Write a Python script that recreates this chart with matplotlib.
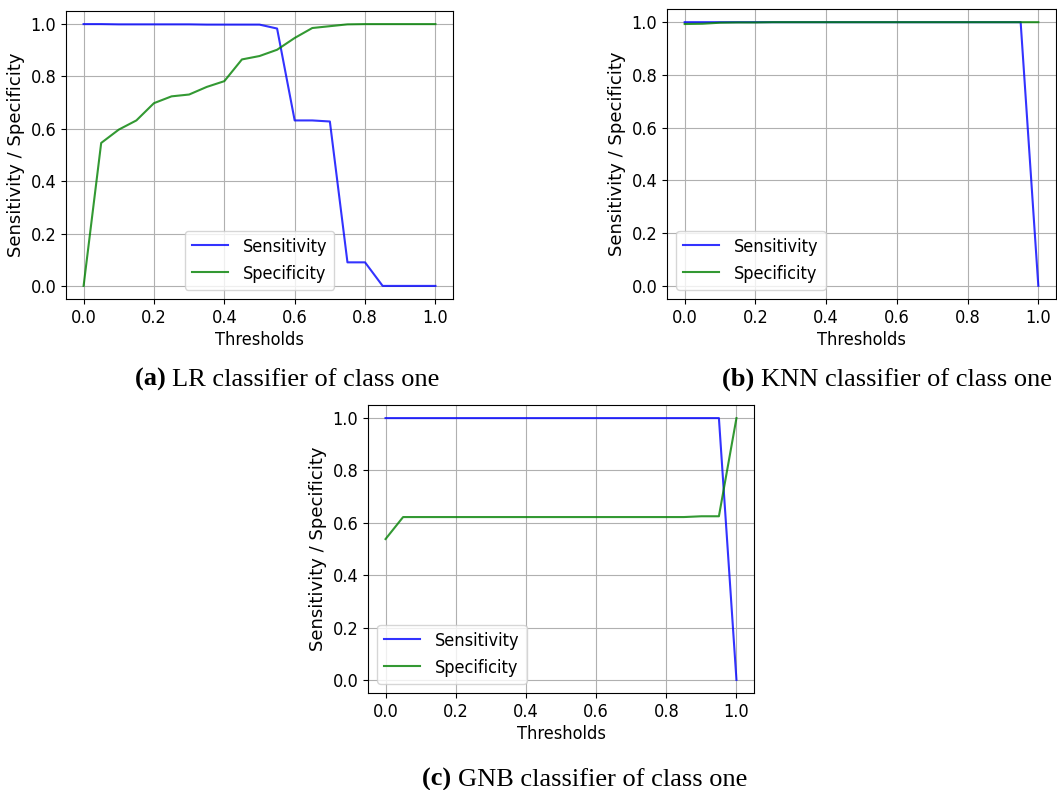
"""Sensitivity / specificity vs. decision threshold for three classifiers (class one)."""
import matplotlib.pyplot as plt
from matplotlib import font_manager

thresholds = [round(0.05 * i, 2) for i in range(21)]

# LR classifier
lr_sensitivity = [1.0, 1.0, 0.999, 0.999, 0.999, 0.999, 0.999, 0.998, 0.998, 0.998,
                  0.998, 0.983, 0.632, 0.632, 0.628, 0.09, 0.09, 0.0, 0.0, 0.0, 0.0]
lr_specificity = [0.0, 0.546, 0.597, 0.632, 0.698, 0.724, 0.731, 0.76, 0.782, 0.865,
                  0.878, 0.902, 0.947, 0.985, 0.992, 0.999, 1.0, 1.0, 1.0, 1.0, 1.0]

# KNN classifier
knn_sensitivity = [1.0, 1.0, 1.0, 1.0, 1.0, 1.0, 1.0, 1.0, 1.0, 1.0,
                   1.0, 1.0, 1.0, 1.0, 1.0, 1.0, 1.0, 1.0, 1.0, 1.0, 0.0]
knn_specificity = [0.993, 0.994, 0.998, 0.999, 0.999, 1.0, 1.0, 1.0, 1.0, 1.0,
                   1.0, 1.0, 1.0, 1.0, 1.0, 1.0, 1.0, 1.0, 1.0, 1.0, 1.0]

# GNB classifier
gnb_sensitivity = [1.0, 1.0, 1.0, 1.0, 1.0, 1.0, 1.0, 1.0, 1.0, 1.0,
                   1.0, 1.0, 1.0, 1.0, 1.0, 1.0, 1.0, 1.0, 1.0, 1.0, 0.0]
gnb_specificity = [0.538, 0.622, 0.622, 0.622, 0.622, 0.622, 0.622, 0.622, 0.622, 0.622,
                   0.622, 0.622, 0.622, 0.622, 0.622, 0.622, 0.622, 0.622, 0.625, 0.625, 1.0]

captions = [("(a)", "LR classifier of class one"),
            ("(b)", "KNN classifier of class one"),
            ("(c)", "GNB classifier of class one")]


def _pick_stretch() -> str:
    """Use the condensed DejaVu face when the system has it."""
    try:
        path = font_manager.findfont(
            font_manager.FontProperties(family="DejaVu Sans", stretch="condensed"),
            fallback_to_default=False)
        if "Condensed" in path:
            return "condensed"
    except Exception:
        pass
    return "normal"


stretch = _pick_stretch()
base_size = 13 if stretch == "condensed" else 12
plt.rcParams["font.family"] = "DejaVu Sans"
plt.rcParams["font.stretch"] = stretch
plt.rcParams["font.size"] = base_size

W, H = 1057, 790
fig = plt.figure(figsize=(W / 100, H / 100), dpi=100)


def px_axes(left, top, right, bottom):
    return fig.add_axes([left / W, 1 - bottom / H, (right - left) / W, (bottom - top) / H])


def draw_panel(ax, sens, spec, legend_loc):
    ax.plot(thresholds, sens, color="b", alpha=0.8, lw=1.5, label="Sensitivity")
    ax.plot(thresholds, spec, color="g", alpha=0.8, lw=1.5, label="Specificity")
    ax.set_xlabel("Thresholds", labelpad=3)
    # the vertical label keeps the regular width face
    ax.set_ylabel("Sensitivity / Specificity", fontsize=13, fontstretch="normal")
    ax.set_xticks([0.0, 0.2, 0.4, 0.6, 0.8, 1.0])
    ax.set_yticks([0.0, 0.2, 0.4, 0.6, 0.8, 1.0])
    ax.grid(True)
    ax.legend(loc=legend_loc)


ax_a = px_axes(66, 11, 453, 299)
ax_b = px_axes(667, 9, 1056, 299)
ax_c = px_axes(368, 405, 754, 693)

draw_panel(ax_a, lr_sensitivity, lr_specificity, "lower center")
draw_panel(ax_b, knn_sensitivity, knn_specificity, "lower left")
draw_panel(ax_c, gnb_sensitivity, gnb_specificity, "lower left")

# captions under each panel, bold tag + regular text in a serif face
caption_pos = [(287, 386), (887, 386), (585, 786)]
for (tag, text), (cx, cy) in zip(captions, caption_pos):
    t1 = fig.text(0, 0, tag + " ", family="Liberation Serif", weight="bold", fontsize=19,
                  stretch="normal", va="baseline")
    t2 = fig.text(0, 0, text, family="Liberation Serif", fontsize=19, stretch="normal",
                  va="baseline")
    fig.canvas.draw()
    r = fig.canvas.get_renderer()
    w1 = t1.get_window_extent(r).width
    w2 = t2.get_window_extent(r).width
    x0 = cx - (w1 + w2) / 2
    t1.set_position((x0 / W, 1 - cy / H))
    t2.set_position(((x0 + w1) / W, 1 - cy / H))

fig.savefig("out.png", dpi=100)
